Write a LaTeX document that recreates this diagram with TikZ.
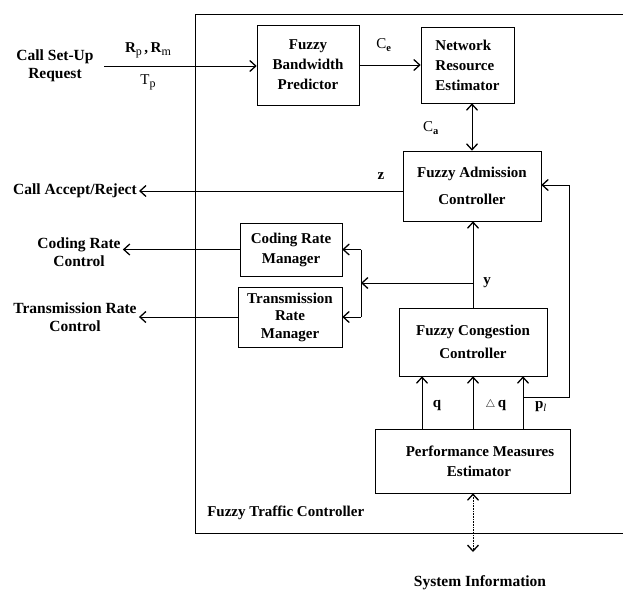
\documentclass[tikz,border=0pt]{standalone}
\usepackage{fontspec}
\setmainfont{Liberation Serif}
\usetikzlibrary{positioning,arrows.meta}

\newcommand{\lowsub}[1]{\raisebox{-3pt}{\mdseries\fontsize{12}{12}\selectfont #1}}

\tikzset{
  block/.style={draw, rectangle, line width=0.6pt, align=center, inner sep=2pt,
    font=\bfseries\fontsize{15}{20}\selectfont},
  outtext/.style={align=center, inner sep=2pt, font=\bfseries\fontsize{15.5}{18.5}\selectfont},
  lbl/.style={inner sep=0pt, font=\bfseries\fontsize{15}{16}\selectfont}
}

\begin{document}
\begin{tikzpicture}[x=1pt,y=-1pt,line width=0.6pt,
    >={Straight Barb[length=6pt,width=11pt,line width=1.3pt]}]
   \useasboundingbox (0,0) rectangle (623,590);

   % frame of the traffic controller, open on the right
   \draw (623,14) -- (195,14) -- (195,533) -- (623,533);
   \node[lbl, anchor=west] (ftc) at (207,513) {Fuzzy Traffic Controller};

   % blocks
   \node[block, minimum width=102, minimum height=80] (fbp) at (308,65) {Fuzzy\\Bandwidth\\Predictor};
   \node[block, minimum width=93, minimum height=76, align=left] (nre) at (467.5,65) {Network\\Resource\\Estimator};
   \node[block, minimum width=138, minimum height=70, font=\bfseries\fontsize{15}{27}\selectfont] (fac) at (472,186) {Fuzzy Admission\\Controller};
   \node[block, minimum width=102, minimum height=53] (crm) at (291,249.5) {Coding Rate\\Manager};
   \node[block, minimum width=104, minimum height=60, font=\bfseries\fontsize{15}{17.5}\selectfont] (trm) at (290,317) {Transmission\\Rate\\Manager};
   \node[block, minimum width=148, minimum height=68, font=\bfseries\fontsize{15}{23}\selectfont] (fcc) at (473,342) {Fuzzy Congestion\\Controller};
   \node[block, minimum width=195, minimum height=64] (pme) at (473,461) {\hspace*{14pt}Performance Measures\\\hspace*{12pt}Estimator};

   % outside texts
   \node[outtext] (req) at (55,66) {Call Set-Up\\Request};
   \node[outtext] (acc) at (75,191) {Call Accept/Reject};
   \node[outtext] (crc) at (79,252) {Coding Rate\\Control};
   \node[outtext] (trc) at (75,317) {Transmission Rate\\Control};
   \node[outtext] (sys) at (480,583) {System Information};

   % helper points
   \coordinate (in) at (104,66);
   \coordinate (sp) at (361,283);
   \coordinate (yj) at (473,283);
   \coordinate (fb) at (569,397);
   \coordinate (si) at (473,552);

   % connectors
   \draw[->] (in) -- (in -| fbp.west);
   \draw[->] (fbp.east) -- (nre.west);
   \draw[<->] (fac.north) -- (fac.north |- nre.south);
   \draw[->] (acc -| fac.west) -- (acc.east);
   \draw[->] (fcc.north) -- (fcc.north |- fac.south);
   \draw[->] (yj) -- (sp);
   \draw (sp |- crm.east) -- (sp |- trm.east);
   \draw[->] (sp |- crm.east) -- (crm.east);
   \draw[->] (sp |- trm.east) -- (trm.east);
   \draw[->] (crm.west) -- (crm.west -| crc.east);
   \draw[->] (trm.west) -- (trm.west -| trc.east);
   \foreach \dx in {-51,0,50}
     \draw[->] ([xshift=\dx]pme.north) -- ([xshift=\dx]fcc.south);
   \draw[->] ([xshift=50]pme.north |- fb) -- (fb) |- ([yshift=1]fac.east);
   \draw[<->, densely dotted] (pme.south) -- (si);

   % signal labels
   \node[lbl] (rr) at (148,50) {R\lowsub{p}\,,\,R\lowsub{m}};
   \node[lbl] (tp) at (148,82) {\mdseries T\lowsub{p}};
   \node[lbl] (ce) at (384,45) {\mdseries C\textsubscript{\bfseries e}};
   \node[lbl] (ca) at (431,128) {\mdseries C\textsubscript{\bfseries a}};
   \node[lbl] (zz) at (381,176) {z};
   \node[lbl] (yy) at (487,283) {y};
   \node[lbl] (qq) at (437,405) {q};
   \node[lbl] (dq) at (496,405) {$\scriptstyle\triangle$\,q};
   \node[lbl] (pl) at (541,407) {p\textsubscript{\mdseries\itshape l}};
\end{tikzpicture}
\end{document}
